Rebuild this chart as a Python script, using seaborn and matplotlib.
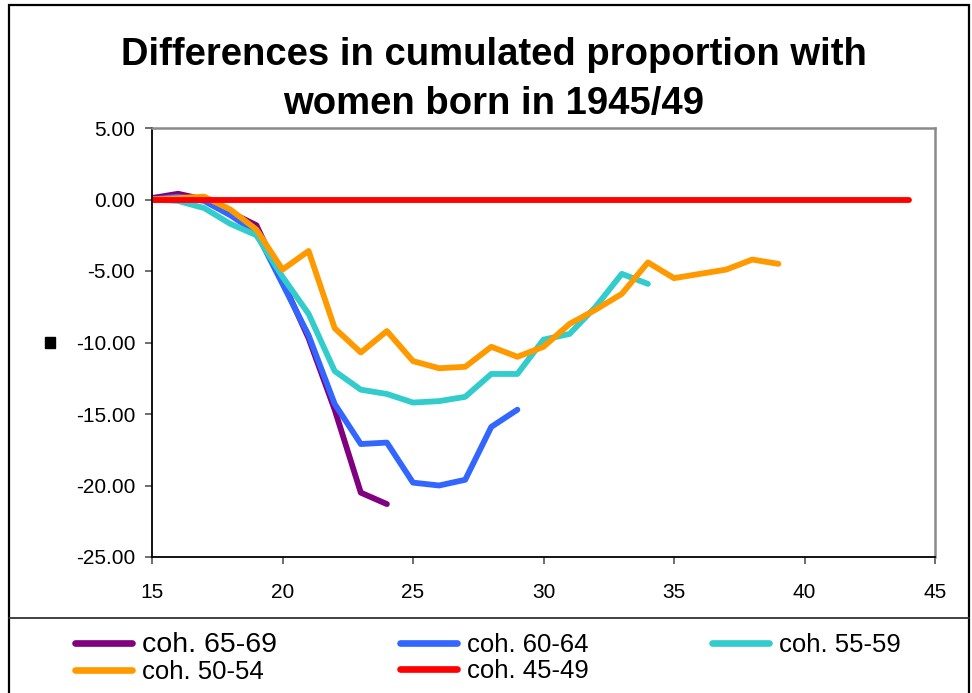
import matplotlib
matplotlib.use("Agg")
import numpy as np
import pandas as pd
import seaborn as sns
import matplotlib.pyplot as plt
from matplotlib.lines import Line2D
from matplotlib.patches import Rectangle

# values (age -> difference in cumulated proportion)
age_6569 = list(range(15, 25))
coh_6569 = [0.1, 0.4, 0.0, -0.9, -1.8, -5.7, -9.7, -14.7, -20.5, -21.3]

age_6064 = list(range(15, 30))
coh_6064 = [0.0, 0.2, -0.1, -1.1, -2.3, -5.9, -9.5, -14.3, -17.1, -17.0,
            -19.8, -20.0, -19.6, -15.9, -14.7]

age_5559 = list(range(15, 35))
coh_5559 = [0.0, -0.1, -0.6, -1.7, -2.5, -5.4, -8.0, -12.0, -13.3, -13.6,
            -14.2, -14.1, -13.8, -12.2, -12.2, -9.8, -9.4, -7.5, -5.2, -5.9]

age_5054 = list(range(15, 40))
coh_5054 = [0.0, 0.1, 0.2, -0.7, -2.1, -4.9, -3.6, -9.0, -10.7, -9.2,
            -11.3, -11.8, -11.7, -10.3, -11.0, -10.3, -8.7, -7.7, -6.6, -4.4,
            -5.5, -5.2, -4.9, -4.2, -4.5]

age_4549 = list(range(15, 45))
coh_4549 = [0.0] * 30

cohorts = ["coh. 65-69", "coh. 60-64", "coh. 55-59", "coh. 50-54", "coh. 45-49"]
colors = ["#800080", "#3366FF", "#33CCCC", "#FF9900", "#FF0000"]
ages = [age_6569, age_6064, age_5559, age_5054, age_4549]
vals = [coh_6569, coh_6064, coh_5559, coh_5054, coh_4549]

df = pd.concat([pd.DataFrame({"age": a, "diff": v, "cohort": c})
                for a, v, c in zip(ages, vals, cohorts)], ignore_index=True)

sns.set_style("white")
plt.rcParams['font.family'] = ['Liberation Sans', 'DejaVu Sans']
plt.rcParams['text.color'] = 'black'

fig = plt.figure(figsize=(9.72, 6.93), dpi=100)
ax = fig.add_axes([152/972, 1-557/693, 783/972, 429/693])

pal = dict(zip(cohorts, colors))
sns.lineplot(data=df, x="age", y="diff", hue="cohort", hue_order=cohorts,
             palette=pal, linewidth=4.2, sort=False, legend=False, ax=ax,
             solid_capstyle="round")

ax.set_xlim(15, 45)
ax.set_ylim(-25, 5)
ax.set_xticks(np.arange(15, 46, 5))
ax.set_yticks(np.arange(-25, 5.1, 5))
ax.set_yticklabels([f"{t:.2f}" for t in np.arange(-25, 5.1, 5)])
ax.set_xlabel("")
ax.set_ylabel("")
ax.tick_params(axis="both", labelsize=15, direction="out", length=5,
               width=1.2, color="#555555", labelcolor="black",
               left=True, bottom=True, pad=7)
ax.tick_params(axis="x", pad=14)
for s in ["top", "right"]:
    ax.spines[s].set_color("#8a8a8a")
    ax.spines[s].set_linewidth(1.8)
for s in ["left", "bottom"]:
    ax.spines[s].set_color("black")
    ax.spines[s].set_linewidth(1.3)

# title
fig.text(0.508, 1-65/693, "Differences in cumulated proportion with",
         ha="center", va="baseline", fontsize=27.5, fontweight="bold",
         color="black")
fig.text(0.508, 1-114/693, "women born in 1945/49",
         ha="center", va="baseline", fontsize=27.5, fontweight="bold",
         color="black")

# small black square left of the axis
fig.add_artist(Rectangle((45/972, 1-348/693), 10/972, 11/693,
                         transform=fig.transFigure, color="black"))

# outer frame and legend box line
fig.add_artist(Rectangle((9/972, -0.01), 960/972, 1.01-5/693,
                         transform=fig.transFigure, fill=False,
                         edgecolor="black", linewidth=1.6))
fig.add_artist(Line2D([9/972, 969/972], [1-618/693, 1-618/693],
                      transform=fig.transFigure, color="#333333", linewidth=1.3))

handles = [Line2D([], [], color=c, linewidth=4.8, solid_capstyle="round")
           for c in colors]
order = [0, 3, 1, 4, 2]
leg = fig.legend([handles[i] for i in order], [cohorts[i] for i in order],
                 ncol=3, loc="upper left", bbox_to_anchor=(75/972, 1-632/693),
                 frameon=False, fontsize=18.5, handlelength=2.2,
                 handletextpad=0.4, columnspacing=4.8, labelspacing=0.08,
                 borderpad=0, borderaxespad=0)
leg.get_texts()[0].set_fontsize(20.5)

fig.savefig("out.png", dpi=100)
